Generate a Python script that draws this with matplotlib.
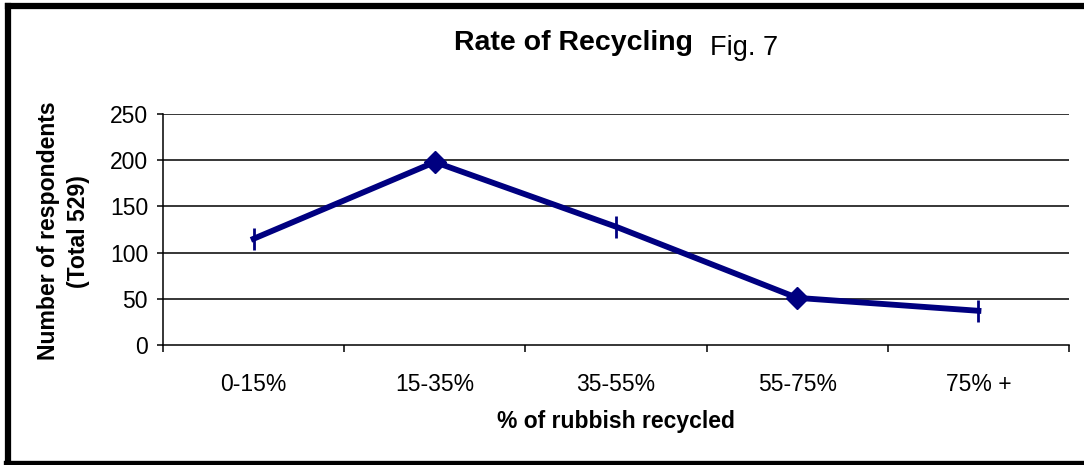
import numpy as np
import matplotlib
matplotlib.use("Agg")
import matplotlib.pyplot as plt
from matplotlib.lines import Line2D
from matplotlib.transforms import Bbox, TransformedBbox

plt.rcParams['font.family'] = ['Liberation Sans', 'DejaVu Sans']

categories = ['0-15%', '15-35%', '35-55%', '55-75%', '75% +']
respondents = [115, 198, 128, 51, 37]
yticks = [0, 50, 100, 150, 200, 250]

navy = '#000080'

fig = plt.figure(figsize=(10.84, 4.65), dpi=100)
ax = fig.add_axes([0.1504, 0.2581, 0.8358, 0.4967])

x = np.arange(len(categories))
ax.plot(x, respondents, color=navy, lw=4.2, zorder=3)
# diamonds on every other point, short vertical bars on the rest
for i, v in enumerate(respondents):
    if i % 2 == 1:
        ax.plot(x[i], v, marker='D', color=navy, ms=11.5, zorder=4)
    else:
        ax.plot(x[i], v, marker='|', color=navy, ms=16, mew=2, zorder=4)

ax.set_xlim(-0.5, len(categories) - 0.5)
ax.set_ylim(0, 250)
ax.set_yticks(yticks)
for t in yticks[1:]:
    ax.axhline(t, color='black', lw=1.1, zorder=1)

ax.set_xticks(x)
ax.set_xticklabels(categories)
ax.set_xticks(np.arange(-0.5, len(categories)), minor=True)
ax.tick_params(axis='x', which='major', length=0, pad=20, labelsize=16.5)
ax.tick_params(axis='x', which='minor', length=5, width=1.1, direction='out')
ax.tick_params(axis='y', length=4.3, width=1.1, direction='out', labelsize=16.5, pad=6.5)

for s in ['top', 'right']:
    ax.spines[s].set_visible(False)
for s in ['left', 'bottom']:
    ax.spines[s].set_linewidth(1.1)

ax.set_xlabel('% of rubbish recycled', fontsize=16.5, fontweight='bold', labelpad=10)

ylab = fig.text(0.0586, 0.503, 'Number of respondents\n(Total 529)', rotation=90,
                ha='center', va='center', fontsize=16.6, fontweight='bold',
                multialignment='center', linespacing=1.35)
ylab.set_clip_box(TransformedBbox(Bbox([[0, 0], [1, 1 - 97 / 465]]), fig.transFigure))
ylab.set_clip_on(True)

fig.text(0.5295, 0.9075, 'Rate of Recycling', ha='center', va='center',
         fontsize=20.5, fontweight='bold')
fig.text(0.686, 0.897, 'Fig. 7', ha='center', va='center', fontsize=19.5)

# chart border (right edge is cut off in the original)
fig.add_artist(Line2D([0.0074, 1.0], [0.987, 0.987], color='black', lw=4.5,
                      transform=fig.transFigure))
fig.add_artist(Line2D([0.0074, 0.0074], [0.0, 0.987], color='black', lw=4.5,
                      transform=fig.transFigure))
fig.add_artist(Line2D([0.0074, 1.0], [0.0, 0.0], color='black', lw=6,
                      transform=fig.transFigure))

fig.savefig('out.png', dpi=100)
